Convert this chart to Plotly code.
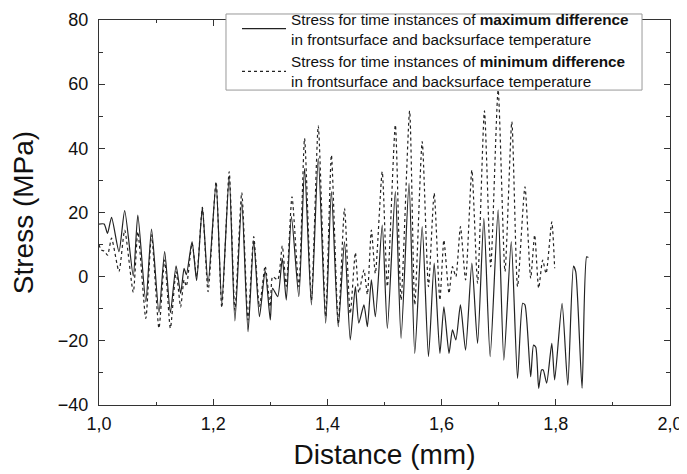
import plotly.graph_objects as go

# Solid series: stress at time instances of maximum difference (turning points)
max_dist = [1.000, 1.009, 1.015, 1.022, 1.035, 1.045, 1.060, 1.068, 1.082, 1.092,
            1.105, 1.115, 1.125, 1.135, 1.143, 1.149, 1.153, 1.163, 1.171, 1.181,
            1.191, 1.205, 1.215, 1.228, 1.238, 1.250, 1.261, 1.271, 1.281, 1.291,
            1.300, 1.304, 1.313, 1.321, 1.328, 1.337, 1.350, 1.360, 1.372, 1.384,
            1.397, 1.407, 1.419, 1.430, 1.440, 1.449, 1.455, 1.464, 1.470, 1.477,
            1.484, 1.496, 1.505, 1.519, 1.529, 1.543, 1.553, 1.566, 1.577, 1.587,
            1.597, 1.604, 1.613, 1.619, 1.625, 1.633, 1.642, 1.653, 1.663, 1.674,
            1.685, 1.699, 1.709, 1.722, 1.733, 1.742, 1.746, 1.756, 1.761, 1.765,
            1.770, 1.775, 1.778, 1.784, 1.793, 1.798, 1.811, 1.821, 1.831, 1.835,
            1.846, 1.854, 1.857]
max_stress = [16.4, 16.4, 13.5, 18.5, 7.8, 20.6, 0.2, 19.2, -7.8, 14.8,
              -11.2, 7.8, -11.2, 3.4, -5.2, 2.6, 0.6, 10.9, -1.2, 21.6,
              -2.1, 29.1, -8.3, 31.2, -13.8, 23.4, -17.1, 11.2, -12.5, 1.9,
              -13.5, -3.6, -6.2, 5.7, -7.3, 18.7, -6.2, 33.8, -8.8, 36.9,
              -14.5, 26.5, -15.6, 10.9, -19.7, -3.1, -14.5, -8.8, -15.6, -1.0,
              -12.5, 16.1, -16.1, 26.5, -19.2, 29.1, -23.9, 15.6, -24.9, 4.2,
              -23.9, -9.4, -23.9, -16.6, -19.7, -8.8, -22.9, 4.2, -20.8, 18.2,
              -24.9, 20.8, -26.0, 10.9, -31.7, -8.3, -8.8, -31.2, -21.3, -22.0,
              -34.8, -29.1, -29.1, -33.2, -20.8, -32.2, -8.3, -33.8, 3.3, 1.5,
              -34.8, 6.2, 6.0]

# Dotted series: stress at time instances of minimum difference
min_dist = [1.000, 1.004, 1.009, 1.015, 1.022, 1.035, 1.045, 1.060, 1.068, 1.082,
            1.092, 1.105, 1.115, 1.125, 1.135, 1.143, 1.149, 1.153, 1.163, 1.171,
            1.181, 1.191, 1.205, 1.215, 1.228, 1.238, 1.250, 1.261, 1.271, 1.281,
            1.291, 1.300, 1.304, 1.313, 1.321, 1.328, 1.338, 1.350, 1.360, 1.372,
            1.384, 1.397, 1.407, 1.419, 1.430, 1.440, 1.449, 1.455, 1.464, 1.470,
            1.477, 1.484, 1.496, 1.505, 1.519, 1.529, 1.544, 1.553, 1.566, 1.577,
            1.587, 1.597, 1.604, 1.613, 1.619, 1.625, 1.633, 1.642, 1.653, 1.663,
            1.675, 1.686, 1.699, 1.711, 1.723, 1.733, 1.746, 1.756, 1.763, 1.770,
            1.777, 1.783, 1.793, 1.798]
min_stress = [10.0, 8.3, 8.0, 6.7, 12.0, 1.6, 14.5, -4.9, 14.0, -13.0,
              13.0, -16.1, 5.2, -16.1, 1.6, -9.4, -1.0, -3.0, 10.4, 0.0,
              21.6, -4.7, 29.6, -9.6, 32.7, -10.4, 26.2, -13.5, 12.5, -9.4,
              3.3, -9.4, 0.0, -1.0, 9.6, -3.0, 24.9, -3.1, 43.1, -7.3,
              47.0, -12.5, 37.9, -14.5, 21.3, -11.5, 7.5, -5.0, 2.1, -5.5,
              14.5, 1.0, 32.7, -3.1, 47.3, -7.3, 51.7, -8.8, 42.1, -3.1,
              26.0, -7.3, 11.4, -5.2, 3.1, 0.0, 15.6, -1.0, 33.2, -2.0,
              51.7, 3.1, 58.2, 1.6, 48.3, -3.1, 28.0, -0.5, 13.0, -3.6,
              5.2, 1.0, 17.1, 2.6]

x_ticks = [1.0, 1.2, 1.4, 1.6, 1.8, 2.0]
y_ticks = [-40, -20, 0, 20, 40, 60, 80]

name_max = "Stress for time instances of <b>maximum difference</b><br>in frontsurface and backsurface temperature"
name_min = "Stress for time instances of <b>minimum difference</b><br>in frontsurface and backsurface temperature"

FONT = "Liberation Sans, Arial, Helvetica, sans-serif"

fig = go.Figure()
fig.add_trace(go.Scatter(x=max_dist, y=max_stress, mode="lines", name=name_max,
                         line=dict(color="#222222", width=1.2, shape="spline", smoothing=0.6)))
fig.add_trace(go.Scatter(x=min_dist, y=min_stress, mode="lines", name=name_min,
                         line=dict(color="#222222", width=1.2, dash="dot", shape="spline", smoothing=0.6)))

axis_common = dict(showline=True, linecolor="#333333", linewidth=1.3, mirror="ticks",
                   ticks="inside", ticklen=6, tickwidth=1, tickcolor="#333333",
                   showgrid=False, zeroline=False, automargin=False,
                   tickfont=dict(family=FONT, size=18, color="#111111"))

# The page body adds an 8 px offset, so the figure is 8 px smaller than the window
fig.update_layout(
    width=679, height=466,
    margin=dict(l=91, r=17, t=12, b=69, autoexpand=False),
    paper_bgcolor="white", plot_bgcolor="white",
    separators=",.",
    font=dict(family=FONT, color="#111111"),
    xaxis=dict(range=[1.0, 2.0], tickvals=x_ticks, tickformat=".1f",
               minor=dict(dtick=0.1, tick0=1.0, ticks="inside", ticklen=3, tickcolor="#333333"),
               ticklabelstandoff=2,
               title=dict(text="Distance (mm)", font=dict(family=FONT, size=28, color="#111111"), standoff=11),
               **axis_common),
    yaxis=dict(range=[-40, 80], tickvals=y_ticks,
               minor=dict(dtick=10, tick0=0, ticks="inside", ticklen=4, tickcolor="#333333"),
               ticklabelstandoff=6,
               title=dict(text="Stress (MPa)", font=dict(family=FONT, size=28, color="#111111"), standoff=44),
               **axis_common),
    legend=dict(x=0.2417, y=1.046, xanchor="left", yanchor="top",
                bgcolor="rgba(0,0,0,0)", borderwidth=0,
                font=dict(family=FONT, size=15.3, color="#111111"),
                itemwidth=44, tracegroupgap=0),
    showlegend=True,
    shapes=[dict(type="rect", xref="paper", yref="paper",
                 x0=0.2224, x1=0.951, y0=0.818, y1=1.0156,
                 fillcolor="white", line=dict(color="#999999", width=1), layer="above")],
)

fig.write_html("out.html")
